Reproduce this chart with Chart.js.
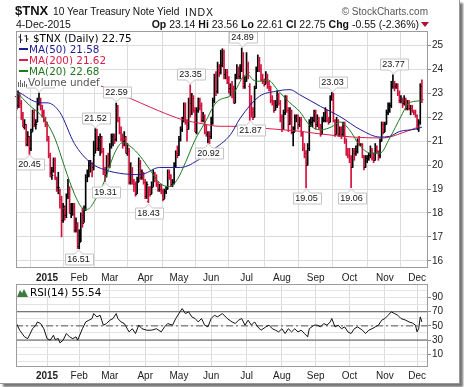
<!DOCTYPE html>
<html>
<head>
<meta charset="utf-8">
<script src="https://cdn.jsdelivr.net/npm/chart.js@4.4.1/dist/chart.umd.min.js"></script>
<style>
  body { margin: 0; background: #fff; }
  #wrap { position: relative; width: 464px; height: 387px; overflow: hidden; background: #fff; }
  #frame { position: absolute; left: 0; top: 0; width: 459px; height: 383px; background: #fff;
           border-right: 1px solid #999; border-bottom: 1px solid #999; box-shadow: 3px 3px 2px #777; }
  canvas { position: absolute; left: 0; }
  .t { position: absolute; white-space: nowrap; line-height: 1; font-family: "Liberation Sans", Arial, sans-serif; color: #111; }
  .lg { position: absolute; left: 17px; height: 10.5px; line-height: 10.5px; white-space: nowrap;
        font: 10.4px "DejaVu Sans", sans-serif; background: #fff; padding-right: 1px; }
  .dash { display: inline-block; width: 9px; height: 2px; vertical-align: 3px; margin: 0 1px 0 2px; }
  svg { vertical-align: -1px; }
</style>
</head>
<body>
<div id="wrap">
  <div id="frame"></div>
  <canvas id="main" width="464" height="285" style="top:0"></canvas>
  <canvas id="rsi" width="464" height="113" style="top:270px"></canvas>

  <div class="t" style="left:15px;top:4px;font-weight:bold;font-size:13px;">$TNX</div>
  <div class="t" style="left:53px;top:6.5px;font-size:10.2px;">10 Year Treasury Note Yield</div>
  <div class="t" style="left:185px;top:6.5px;font-size:10.5px;letter-spacing:1px;">INDX</div>
  <div class="t" style="right:36px;top:6.5px;font-size:10px;color:#555;">© StockCharts.com</div>
  <div class="t" style="left:16px;top:19px;font-size:10.5px;">4-Dec-2015</div>
  <div class="t" style="right:45px;top:19px;font-size:10.5px;"><b>Op</b> 23.14 <b>Hi</b> 23.56 <b>Lo</b> 22.61 <b>Cl</b> 22.75 <b>Chg</b> -0.55 (-2.36%)</div>
  <svg style="position:absolute;left:421px;top:22px" width="8" height="5"><path d="M0 0H8L4 5Z" fill="#b0103a"/></svg>

  <div class="lg" style="top:32px;padding-left:1px"><svg width="15" height="9"><path d="M2.5 0V9M0.5 3H2.5M2.5 6H4.5M8.5 1V8M6.5 2H8.5M8.5 5H10.5" stroke="#222" fill="none"/></svg>$TNX (Daily) 22.75</div>
  <div class="lg" style="top:43px;color:#1c1c98"><span class="dash" style="background:#1c1c98"></span>MA(50) 21.58</div>
  <div class="lg" style="top:54px;color:#d81e4a"><span class="dash" style="background:#d81e4a"></span>MA(200) 21.62</div>
  <div class="lg" style="top:65px;color:#1d7a1d"><span class="dash" style="background:#1d7a1d"></span>MA(20) 22.68</div>
  <div class="lg" style="top:76px;color:#555"><svg width="11" height="9"><path d="M1.5 9V4M3.5 9V2M5.5 9V5M7.5 9V3M9.5 9V6" stroke="#666" fill="none"/></svg>Volume undef</div>

  <div class="lg" style="top:286px;"><svg width="13" height="9"><path d="M0 9L3 2L5 5L7 1L11 9Z" fill="#3d7a3d"/></svg>RSI(14) 55.54</div>
</div>

<script>
// daily bars [open, high, low, close], $TNX (yield x 10)
const dec14 = [
  [22.9,23.0,22.3,22.4],[22.5,23.1,22.4,23.0],[23.0,23.0,22.4,22.6],[22.6,22.7,21.9,22.1],[22.1,22.2,21.6,21.7],
  [21.6,21.9,21.5,21.7],[21.6,21.7,20.8,20.9],[20.9,21.4,20.8,21.2],[21.1,21.2,20.45,20.7],[20.7,21.5,20.6,21.4],
  [21.5,22.3,21.4,22.2],[22.2,22.3,21.6,21.7],[21.7,21.9,21.5,21.7],[21.8,22.8,21.8,22.6],[22.6,23.01,22.5,22.7],
  [22.7,22.8,22.3,22.5],[22.4,22.5,22.0,22.2],[22.2,22.3,21.8,21.9],[21.9,22.0,21.6,21.7]
];
const jan15 = [
  [21.7,21.8,21.0,21.2],[21.1,21.2,20.3,20.4],[20.4,20.5,19.5,19.6],[19.7,19.9,19.4,19.6],[19.8,20.3,19.7,20.2],
  [20.2,20.3,19.4,19.5],[19.4,19.5,18.9,19.1],[19.1,19.7,18.8,19.1],[18.9,19.0,18.2,18.6],[18.6,18.7,17.0,17.7],
  [17.7,18.4,17.6,18.3],[18.2,18.3,17.7,17.9],[17.9,18.8,17.8,18.7],[18.8,19.4,18.6,19.0],[19.0,19.1,18.0,18.0],
  [18.0,18.4,17.8,18.3],[18.3,18.4,17.9,18.3],[18.3,18.4,17.2,17.3],[17.3,17.8,17.2,17.5],[17.5,17.6,16.51,16.6]
];
const feb15 = [
  [16.6,17.3,16.5,16.8],[16.9,18.0,16.8,17.9],[17.9,18.2,17.4,17.6],[17.6,18.3,17.6,18.2],[18.2,19.6,18.1,19.5],
  [19.5,19.8,19.3,19.6],[19.6,20.2,19.5,20.0],[20.0,20.2,19.7,20.0],[20.0,20.1,19.5,19.8],[19.9,21.0,19.8,20.4],
  [20.5,21.52,20.5,21.4],[21.4,21.5,20.6,20.7],[20.7,21.2,20.6,21.1],[21.1,21.3,20.4,21.2],[21.1,21.2,20.5,20.6],
  [20.6,20.7,19.6,19.7],[19.7,19.9,19.31,19.6],[19.6,20.4,19.5,20.3],[20.3,20.5,19.9,20.0]
];
const mar15 = [
  [20.0,20.9,19.9,20.8],[20.8,21.3,20.7,21.2],[21.2,21.3,20.8,21.2],[21.2,21.3,20.9,21.1],[21.1,22.59,21.0,22.4],
  [22.4,22.5,21.8,21.9],[21.9,22.0,21.3,21.4],[21.4,21.6,21.0,21.1],[21.1,21.3,20.7,21.0],[21.0,21.4,20.8,21.2],
  [21.1,21.2,20.5,20.5],[20.5,20.9,20.4,20.6],[20.6,20.7,19.2,19.3],[19.3,20.1,19.2,19.8],[19.8,19.9,19.2,19.3],
  [19.3,19.4,18.9,19.2],[19.2,19.3,18.7,18.8],[18.8,19.5,18.8,19.3],[19.3,20.3,19.3,20.1],[20.1,20.2,19.4,19.5],
  [19.5,19.8,19.4,19.6],[19.6,19.7,19.2,19.3]
];
const apr15 = [
  [19.3,19.4,18.6,18.7],[18.7,19.3,18.6,19.2],[18.5,19.1,18.43,19.0],[19.0,19.1,18.7,18.8],[18.8,19.3,18.8,19.1],
  [19.1,19.8,19.1,19.6],[19.6,19.7,19.3,19.5],[19.5,19.6,19.1,19.2],[19.2,19.3,18.9,19.0],[19.0,19.2,18.9,19.0],
  [19.0,19.2,18.8,18.9],[18.9,19.0,18.5,18.6],[18.6,19.0,18.6,18.9],[18.9,19.1,18.8,19.0],[19.0,19.8,19.0,19.7],
  [19.7,19.8,19.4,19.6],[19.6,19.6,19.1,19.2],[19.2,19.4,19.1,19.3],[19.3,20.1,19.2,20.0],[20.0,20.6,19.9,20.5],
  [20.5,20.8,20.3,20.4]
];
const may15 = [
  [20.4,21.2,20.4,21.1],[21.1,21.6,21.0,21.5],[21.5,22.0,21.4,21.9],[21.9,22.6,21.8,22.5],[22.5,22.6,21.7,21.8],
  [21.8,21.9,21.0,21.5],[21.5,22.8,21.5,22.7],[22.7,23.35,22.0,22.6],[22.6,23.0,22.1,22.8],[22.8,22.9,22.2,22.3],
  [22.3,22.4,21.4,21.4],[21.4,22.4,21.3,22.3],[22.3,22.8,22.2,22.7],[22.7,22.8,22.3,22.5],[22.5,22.6,21.8,21.9],
  [21.9,22.2,21.8,22.1],[22.1,22.1,21.3,21.4],[21.4,21.7,21.2,21.3],[21.3,21.4,20.92,21.3],[21.3,21.4,20.9,21.2]
];
const jun15 = [
  [21.2,22.0,21.1,21.8],[21.8,22.8,21.7,22.7],[22.7,23.8,22.6,23.7],[23.7,23.9,22.9,23.1],[23.1,24.3,23.0,24.0],
  [24.0,24.2,23.7,23.9],[23.9,24.8,23.8,24.2],[24.2,24.86,24.1,24.8],[24.8,24.8,23.6,23.8],[23.8,24.0,23.6,23.9],
  [23.9,24.0,23.4,23.6],[23.6,23.7,23.0,23.2],[23.2,23.4,22.9,23.3],[23.3,23.5,22.8,23.2],[23.2,23.3,22.6,22.6],
  [22.6,23.8,22.6,23.7],[23.7,24.2,23.6,24.0],[24.0,24.1,23.6,23.7],[23.7,24.2,23.6,24.0],[24.0,24.89,23.9,24.7],
  [24.7,24.7,23.2,23.3],[23.3,23.7,23.2,23.5]
];
const jul15 = [
  [23.5,24.7,23.5,24.2],[24.2,24.3,23.6,23.9],[23.3,23.4,21.87,22.6],[22.6,22.9,22.0,22.2],[22.2,22.4,21.9,22.0],
  [22.0,23.3,22.0,23.2],[23.2,24.1,23.2,24.0],[24.0,24.6,23.9,24.4],[24.4,24.5,23.9,24.0],[24.0,24.2,23.5,23.6],
  [23.6,23.8,23.4,23.5],[23.5,23.6,23.3,23.4],[23.4,23.9,23.4,23.7],[23.7,23.8,23.2,23.3],[23.3,23.5,23.1,23.2],
  [23.2,23.3,22.6,22.7],[22.7,22.9,22.5,22.6],[22.6,22.7,22.2,22.3],[22.3,22.7,22.3,22.5],[22.5,23.1,22.4,22.9],
  [22.9,23.0,22.5,22.6],[22.6,22.7,21.8,22.0]
];
const aug15 = [
  [22.0,22.1,21.4,21.5],[21.5,22.3,21.5,22.2],[22.2,22.9,22.1,22.8],[22.8,22.9,22.2,22.3],[22.3,22.4,21.4,21.7],
  [21.7,22.4,21.7,22.3],[22.3,22.3,21.3,21.4],[21.4,21.6,20.8,21.4],[21.4,22.1,21.4,22.0],[22.0,22.1,21.8,22.0],
  [22.0,22.1,21.5,21.7],[21.7,22.0,21.6,21.9],[21.9,22.0,21.2,21.3],[21.3,21.4,20.6,20.7],[20.7,20.9,20.3,20.5],
  [20.5,20.6,19.05,20.0],[20.0,20.9,20.0,20.7],[20.7,21.9,20.6,21.8],[21.8,22.0,21.6,21.8],[21.8,22.0,21.6,21.9],
  [21.9,22.3,21.8,22.2]
];
const sep15 = [
  [22.2,22.3,21.5,21.7],[21.7,22.1,21.6,21.9],[21.9,22.0,21.5,21.6],[21.6,21.7,21.2,21.3],[21.3,22.0,21.3,21.9],
  [21.9,22.2,21.8,21.9],[21.9,22.4,21.8,22.3],[22.3,22.3,21.8,21.9],[21.9,22.0,21.7,21.8],[21.8,22.9,21.8,22.8],
  [22.8,23.03,22.7,22.9],[22.9,23.0,21.8,21.9],[21.9,21.9,21.2,21.3],[21.3,22.0,21.3,21.9],[21.9,21.9,21.2,21.3],
  [21.3,21.6,21.2,21.5],[21.5,21.6,21.1,21.3],[21.3,21.8,21.2,21.7],[21.7,21.8,20.9,21.0],[21.0,21.1,20.4,20.5],
  [20.5,20.7,20.3,20.4]
];
const oct15 = [
  [20.4,20.7,20.1,20.3],[20.3,20.4,19.06,19.9],[19.9,20.7,19.9,20.6],[20.6,20.7,20.2,20.5],[20.5,20.8,20.4,20.6],
  [20.6,21.1,20.5,21.0],[21.0,21.2,20.8,20.9],[20.9,20.9,20.8,20.9],[20.9,20.9,20.3,20.4],[20.4,20.4,19.8,19.9],
  [19.9,20.4,19.9,20.3],[20.3,20.4,20.1,20.3],[20.3,20.5,20.2,20.4],[20.4,20.8,20.3,20.7],[20.7,20.7,20.2,20.3],
  [20.3,20.5,20.1,20.2],[20.2,20.9,20.2,20.8],[20.8,20.8,20.5,20.6],[20.6,20.6,20.2,20.4],[20.4,21.1,20.3,21.0],
  [21.0,21.8,21.0,21.7],[21.7,21.8,21.3,21.4]
];
const nov15 = [
  [21.4,21.8,21.4,21.7],[21.7,22.3,21.7,22.2],[22.2,22.6,22.1,22.3],[22.3,22.6,22.2,22.5],[22.5,23.5,22.4,23.3],
  [23.3,23.77,23.2,23.4],[23.4,23.5,23.1,23.3],[23.3,23.4,23.2,23.3],[23.3,23.4,22.9,23.0],[23.0,23.1,22.6,22.7],
  [22.7,22.9,22.6,22.7],[22.7,22.8,22.4,22.6],[22.6,22.9,22.5,22.7],[22.7,22.8,22.3,22.4],[22.4,22.7,22.3,22.6],
  [22.6,22.7,22.3,22.4],[22.4,22.5,22.1,22.4],[22.4,22.5,22.2,22.3],[22.3,22.3,22.1,22.2],[22.2,22.3,22.0,22.1]
];
const dec15 = [
  [22.1,22.1,21.5,21.5],[21.5,21.9,21.4,21.8],[21.8,23.4,21.7,23.3],[23.14,23.56,22.61,22.75]
];

// moving averages (trading-day index, value)
const ma20Days   = [0, 8, 15, 19, 24, 30, 36, 41, 44, 49, 55, 61, 66, 71, 77, 83, 89, 95, 100, 105, 111, 117, 124, 135, 141, 144, 147, 151, 156, 163, 170, 176, 182, 189, 196, 201, 207, 213, 220, 226, 232, 239, 243, 247, 252];
const ma20Values = [23.06, 22.5, 22.1, 21.75, 21.1, 19.9, 18.8, 18.2, 18.15, 18.55, 19.38, 20.5, 20.94, 20.77, 20.36, 19.8, 19.25, 19.1, 19.4, 20.1, 21.05, 21.75, 22.6, 23.0, 23.7, 23.77, 23.56, 23.5, 23.56, 23.08, 22.6, 22.24, 21.68, 21.47, 21.6, 21.8, 21.47, 20.85, 20.5, 20.5, 21.13, 22.03, 22.52, 22.66, 22.68];
const ma50Days   = [0, 15, 19, 27, 36, 46, 55, 67, 77, 89, 102, 114, 122, 133, 139, 151, 161, 170, 176, 189, 201, 214, 226, 232, 238, 248, 252];
const ma50Values = [23.1, 22.6, 22.6, 22.2, 20.9, 20.1, 19.8, 19.63, 19.6, 19.9, 19.9, 20.25, 20.63, 21.27, 21.95, 22.87, 23.08, 23.15, 22.94, 22.45, 22.03, 21.47, 21.17, 21.2, 21.4, 21.5, 21.58];
const ma200Days   = [0, 47, 58, 77, 89, 103, 116, 126, 139, 145, 175, 189, 209, 228, 240, 251];
const ma200Values = [24.5, 23.45, 23.15, 22.6, 22.25, 21.9, 21.72, 21.62, 21.62, 21.58, 21.42, 21.3, 21.17, 21.13, 21.35, 21.62];

// RSI(14)
const rsiDays = [0,2,5,7,10,12,13,15,17,19,21,23,24,26,27,29,31,33,35,37,38,41,43,45,47,48,50,52,53,54,56,58,60,62,63,65,67,70,72,74,76,78,81,84,87,90,92,94,97,99,101,103,105,107,109,111,113,115,117,119,121,123,125,128,131,134,136,138,140,142,144,146,148,150,152,155,157,159,161,163,165,167,169,171,173,175,177,179,181,182,185,187,189,191,193,195,196,198,200,202,204,206,208,210,212,215,217,219,221,223,225,227,229,231,233,235,237,239,242,244,246,248,249,250,251,252];
const rsiValues = [53.3,43.9,34.5,32,46,51,55.6,53.3,46,32,29.8,36.8,30.7,32,26,29.8,39.2,34.5,32,34.5,29.8,46,55.6,58,60.4,67.4,62.7,65,58,51,53.3,58,60.4,67.4,60.4,55.6,53.3,41.5,46,39.2,51,46,43.9,43.9,46,41.5,48.6,53.3,51,60.4,67.4,74.5,67.4,69.8,62.7,60.4,55.6,60.4,51,48.6,60.4,65,62.7,67.4,60.4,55.6,53.3,58,60.4,51,58,51,55.6,48.6,43.9,48.6,51,46,43.9,41.5,46,39.2,46,41.5,46,41.5,43.9,39.2,34.5,46,51,51,48.6,53.3,51,55.6,60.4,48.6,51,46,48.6,41.5,39.2,46,48.6,43.9,39.2,43.9,46,48.6,51,58,60.4,65,69.8,67.4,65,60.4,58,55.6,54.2,51,41.5,46,62.7,55.5];
const rsiLevels = [30, 50, 70];

// axes
const monthStarts = [19, 39, 58, 80, 101, 121, 143, 165, 186, 207, 229, 249];
const monthLabels = ['2015', 'Feb', 'Mar', 'Apr', 'May', 'Jun', 'Jul', 'Aug', 'Sep', 'Oct', 'Nov', 'Dec'];
const priceTicks = [16, 17, 18, 19, 20, 21, 22, 23, 24, 25];
const rsiGrid = [0, 10, 20, 30, 40, 50, 60, 70, 80, 90, 100];
const rsiTickLabels = [10, 30, 50, 70, 90];

// labelled highs / lows (bar index)
const callouts = [[14,'high'],[8,'low'],[38,'low'],[49,'high'],[55,'low'],[62,'high'],[82,'low'],[108,'high'],
                  [119,'low'],[140,'high'],[145,'low'],[180,'low'],[196,'high'],[208,'low'],[234,'high']];

const bars = [].concat(dec14, jan15, feb15, mar15, apr15, may15, jun15, jul15, aug15, sep15, oct15, nov15, dec15);
const RED = '#d4103c';
const barColors = bars.map((b, i) => {
  const prev = i ? bars[i - 1][3] : b[0];
  return b[3] >= prev ? '#000' : RED;
});
const pts = (xs, ys) => xs.map((x, k) => ({ x: x, y: ys[k] }));

Chart.defaults.font.family = '"Liberation Sans", Arial, sans-serif';
Chart.defaults.font.size = 10;
Chart.defaults.color = '#222';

const ohlcTicks = {
  id: 'ohlcTicks',
  afterDatasetDraw(chart, args) {
    if (args.index !== 0) return;
    const ctx = chart.ctx, y = chart.scales.y;
    ctx.save();
    ctx.lineWidth = 1;
    args.meta.data.forEach((el, i) => {
      const b = bars[i];
      const yo = Math.round(y.getPixelForValue(b[0])) + 0.5;
      const yc = Math.round(y.getPixelForValue(b[3])) + 0.5;
      ctx.strokeStyle = barColors[i];
      ctx.beginPath();
      ctx.moveTo(el.x - 1.5, yo); ctx.lineTo(el.x, yo);
      ctx.moveTo(el.x, yc); ctx.lineTo(el.x + 1.5, yc);
      ctx.stroke();
    });
    ctx.restore();
  }
};

const calloutBoxes = {
  id: 'calloutBoxes',
  afterDatasetsDraw(chart) {
    const ctx = chart.ctx, x = chart.scales.x, y = chart.scales.y;
    ctx.save();
    ctx.font = '9px "Liberation Sans", Arial, sans-serif';
    ctx.textAlign = 'center';
    ctx.textBaseline = 'middle';
    ctx.lineWidth = 1;
    callouts.forEach(([i, kind]) => {
      const v = kind === 'high' ? bars[i][1] : bars[i][2];
      const px = Math.round(x.getPixelForValue(i)) + 0.5;
      const py = Math.round(y.getPixelForValue(v));
      const txt = v.toFixed(2);
      const w = Math.round(ctx.measureText(txt).width) + 5, h = 11;
      const left = Math.round(px - w / 2) + 0.5;
      let top, tipY, edge;
      if (kind === 'high') { tipY = py - 1; edge = tipY - 4; top = edge - h; }
      else { tipY = py + 1; edge = tipY + 4; top = edge; }
      ctx.beginPath();
      if (kind === 'high') {
        ctx.moveTo(left, top); ctx.lineTo(left + w, top); ctx.lineTo(left + w, edge);
        ctx.lineTo(px + 4, edge); ctx.lineTo(px, tipY); ctx.lineTo(px - 4, edge); ctx.lineTo(left, edge);
      } else {
        ctx.moveTo(left, edge); ctx.lineTo(px - 4, edge); ctx.lineTo(px, tipY); ctx.lineTo(px + 4, edge);
        ctx.lineTo(left + w, edge); ctx.lineTo(left + w, edge + h); ctx.lineTo(left, edge + h);
      }
      ctx.closePath();
      ctx.fillStyle = '#fff';
      ctx.fill();
      ctx.strokeStyle = '#c4c4c4';
      ctx.stroke();
      ctx.fillStyle = '#111';
      ctx.fillText(txt, px, top + h / 2 + 0.5);
    });
    ctx.restore();
  }
};

const frame = {
  id: 'frame',
  afterDraw(chart) {
    const a = chart.chartArea, ctx = chart.ctx;
    ctx.save();
    ctx.strokeStyle = '#9c9c9c';
    ctx.lineWidth = 1;
    ctx.strokeRect(Math.round(a.left) + 0.5, Math.round(a.top) + 0.5,
                   Math.round(a.right - a.left) - 1, Math.round(a.bottom - a.top) - 1);
    ctx.restore();
  }
};

const xAxis = (height, pad) => ({
  type: 'linear', min: -0.3, max: 255.8, offset: false,
  afterBuildTicks: s => { s.ticks = monthStarts.map(v => ({ value: v })); },
  afterFit: s => { s.height = height; },
  ticks: {
    autoSkip: false, maxRotation: 0, padding: pad,
    callback: (v, i) => monthLabels[i],
    font: c => ({ size: 10, weight: c.index === 0 ? 'bold' : 'normal' })
  },
  grid: { color: '#dcdcdc', drawTicks: false },
  border: { display: false }
});

new Chart(document.getElementById('main'), {
  type: 'bar',
  data: {
    datasets: [
      { type: 'bar', data: bars.map((b, i) => ({ x: i, y: [b[2], b[1]] })),
        backgroundColor: barColors, barThickness: 1, order: 4 },
      { type: 'line', data: pts(ma200Days, ma200Values), borderColor: '#d81e4a', borderWidth: 1,
        pointRadius: 0, cubicInterpolationMode: 'monotone', order: 3 },
      { type: 'line', data: pts(ma50Days, ma50Values), borderColor: '#1c1c98', borderWidth: 1,
        pointRadius: 0, cubicInterpolationMode: 'monotone', order: 2 },
      { type: 'line', data: pts(ma20Days, ma20Values), borderColor: '#1d7a1d', borderWidth: 1,
        pointRadius: 0, cubicInterpolationMode: 'monotone', order: 1 }
    ]
  },
  options: {
    responsive: false, animation: false, events: [],
    layout: { padding: { left: 16, top: 31, right: 0, bottom: 0 } },
    plugins: { legend: { display: false }, tooltip: { enabled: false } },
    scales: {
      x: xAxis(17, 4),
      y: {
        position: 'right', min: 15.7, max: 25.6,
        afterBuildTicks: s => { s.ticks = priceTicks.map(v => ({ value: v })); },
        afterFit: s => { s.width = 36; },
        ticks: { padding: 1, autoSkip: false, font: { size: 10 } },
        grid: { color: '#dcdcdc', tickLength: 3, tickColor: '#888' },
        border: { display: false }
      }
    }
  },
  plugins: [ohlcTicks, calloutBoxes, frame]
});

const levelSets = rsiLevels.map(v => ({
  type: 'line', data: [{ x: -0.3, y: v }, { x: 255.8, y: v }],
  borderColor: '#555', borderWidth: 1, pointRadius: 0,
  borderDash: v === 50 ? [7, 3, 2, 3] : [], order: 2
}));

new Chart(document.getElementById('rsi'), {
  type: 'line',
  data: {
    datasets: levelSets.concat([
      { type: 'line', data: pts(rsiDays, rsiValues), borderColor: '#111', borderWidth: 1,
        pointRadius: 0, tension: 0, order: 1 }
    ])
  },
  options: {
    responsive: false, animation: false, events: [],
    layout: { padding: { left: 16, top: 14, right: 0, bottom: 0 } },
    plugins: { legend: { display: false }, tooltip: { enabled: false } },
    scales: {
      x: xAxis(16, 3),
      y: {
        position: 'right', min: -8.1, max: 109.2,
        afterBuildTicks: s => { s.ticks = rsiGrid.map(v => ({ value: v })); },
        afterFit: s => { s.width = 36; },
        ticks: { padding: 1, autoSkip: false, font: { size: 10 },
                 callback: v => rsiTickLabels.includes(v) ? String(v) : '' },
        grid: { color: '#e4e4e4', tickLength: 3,
                tickColor: c => rsiTickLabels.includes(c.tick.value) ? '#888' : 'rgba(0,0,0,0)' },
        border: { display: false }
      }
    }
  },
  plugins: [frame]
});
</script>
</body>
</html>
